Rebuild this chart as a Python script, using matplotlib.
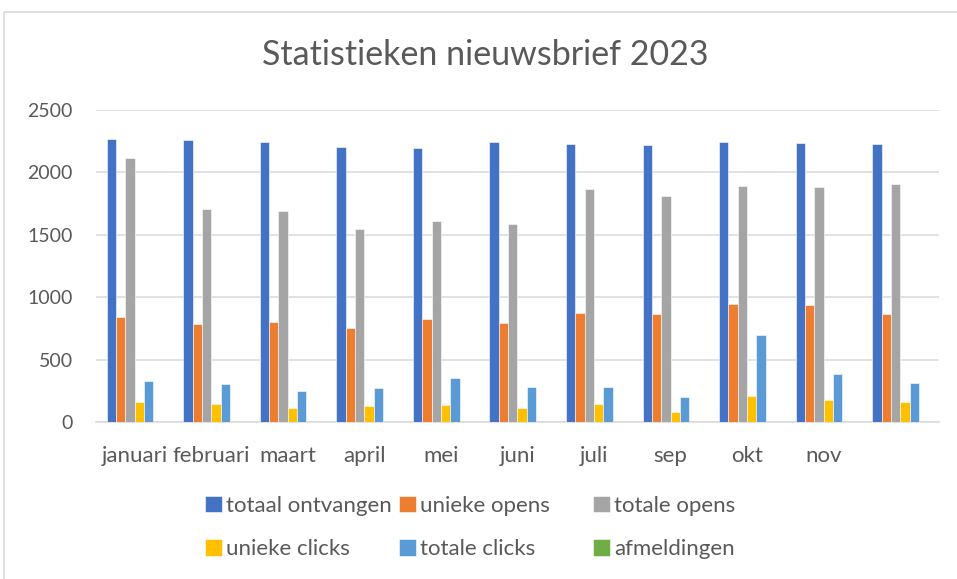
import matplotlib.pyplot as plt
import matplotlib.patches as patches
import numpy as np

plt.rcParams['font.family'] = ['Lato', 'DejaVu Sans']

# data
maanden = ['januari', 'februari', 'maart', 'april', 'mei', 'juni',
           'juli', 'sep', 'okt', 'nov', '']
totaal_ontvangen = [2268, 2257, 2241, 2206, 2195, 2246, 2230, 2219, 2246, 2235, 2225]
unieke_opens = [842, 789, 800, 757, 829, 794, 877, 869, 947, 941, 869]
totale_opens = [2113, 1703, 1693, 1548, 1610, 1588, 1866, 1813, 1888, 1883, 1909]
unieke_clicks = [160, 144, 115, 126, 134, 110, 144, 83, 211, 176, 160]
totale_clicks = [332, 305, 249, 275, 350, 283, 283, 203, 695, 382, 316]
afmeldingen = [1, 5, 5, 2, 1, 1, 1, 3, 1, 1, 1]

reeksen = ['totaal ontvangen', 'unieke opens', 'totale opens',
           'unieke clicks', 'totale clicks', 'afmeldingen']
waarden = [totaal_ontvangen, unieke_opens, totale_opens,
           unieke_clicks, totale_clicks, afmeldingen]
kleuren = ['#4472C4', '#ED7D31', '#A5A5A5', '#FFC000', '#5B9BD5', '#70AD47']

tekst = '#595959'
grid = '#D9D9D9'

fig = plt.figure(figsize=(9.57, 5.79), dpi=100)
ax = fig.add_axes([96.4 / 957, 1 - 422 / 579, (938.5 - 96.4) / 957, (422 - 110) / 579])

# rand om het grafiekgebied
fig.patches.append(patches.Rectangle((4 / 957, -0.05), 1.1, 1 - 12 / 579 + 0.05,
                                     transform=fig.transFigure, fill=False,
                                     edgecolor=grid, linewidth=1.2))

x = np.arange(len(maanden))
w = 0.1218
bars = []
for i, (naam, vals, kleur) in enumerate(zip(reeksen, waarden, kleuren)):
    b = ax.bar(x + (i - 2.5) * w, vals, w, color=kleur, edgecolor='white',
               linewidth=0.4, label=naam, zorder=3)
    bars.append(b)

ax.set_xlim(-0.5, len(maanden) - 0.5)
ax.set_ylim(0, 2500)
ax.set_yticks(range(0, 2501, 500))
ax.set_xticks(x)
ax.set_xticklabels(maanden)
ax.yaxis.grid(True, color=grid, linewidth=1.1, zorder=0)
ax.set_axisbelow(True)
for s in ['top', 'right', 'left']:
    ax.spines[s].set_visible(False)
ax.spines['bottom'].set_color(grid)
ax.spines['bottom'].set_linewidth(1.1)
ax.tick_params(axis='both', length=0, colors=tekst)
ax.tick_params(axis='y', pad=17, labelsize=14)
ax.tick_params(axis='x', pad=17, labelsize=16)

fig.text(0.507, 1 - 55 / 579, 'Statistieken nieuwsbrief 2023', ha='center',
         va='center', fontsize=24.5, color=tekst)

# legenda in drie kolommen, zoals in Excel
kol_x = [205, 399, 593]
for k in range(3):
    h = [bars[k], bars[k + 3]]
    lab = [reeksen[k], reeksen[k + 3]]
    fig.legend(h, lab, loc='upper left', bbox_to_anchor=(kol_x[k] / 957, 1 - 496 / 579),
               frameon=False, fontsize=16, labelcolor=tekst, handlelength=0.75,
               handleheight=0.75, handletextpad=0.2, labelspacing=1.05,
               borderaxespad=0, borderpad=0)

fig.savefig('out.png', dpi=100)
